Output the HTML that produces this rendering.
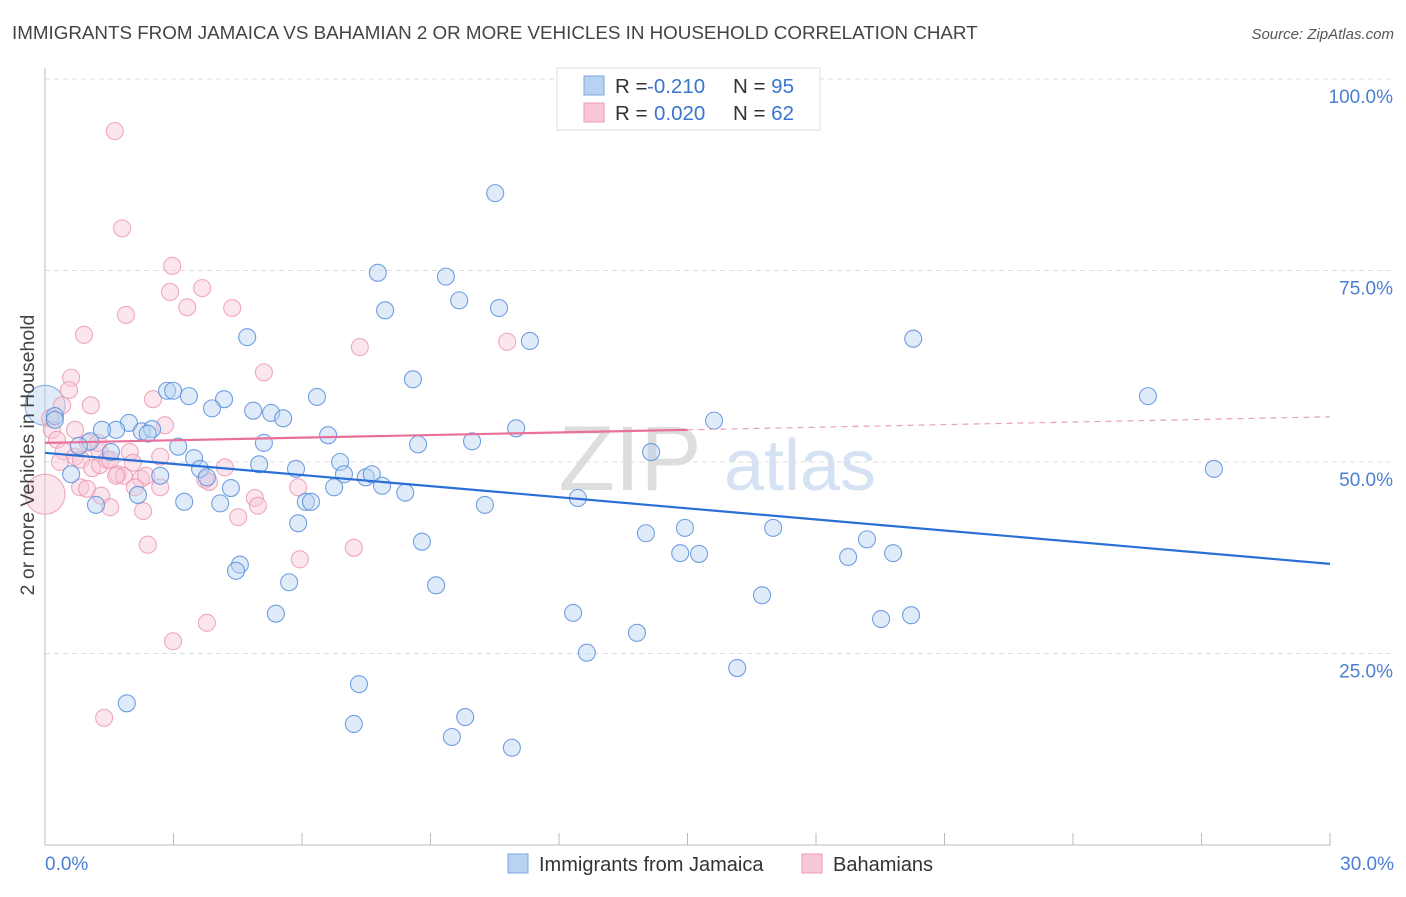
<!DOCTYPE html>
<html><head><meta charset="utf-8"><style>
body{margin:0;background:#fff;font-family:"Liberation Sans",sans-serif;}
svg text{font-family:"Liberation Sans",sans-serif;}
</style></head><body>
<svg id="chart" width="1406" height="892" viewBox="0 0 1406 892" xmlns="http://www.w3.org/2000/svg">
<text x="12" y="39" font-size="18.8" fill="#444">IMMIGRANTS FROM JAMAICA VS BAHAMIAN 2 OR MORE VEHICLES IN HOUSEHOLD CORRELATION CHART</text>
<text x="1394" y="39" font-size="15" fill="#555" font-style="italic" text-anchor="end">Source: ZipAtlas.com</text>
<g>
<text x="630" y="490" font-size="92" fill="#ddd" font-family="Liberation Serif,serif" text-anchor="middle">ZIP</text>
<text x="800" y="490" font-size="72" fill="#d4e2f3" text-anchor="middle">atlas</text>
</g>
<g id="grid"></g>
<g id="axes"></g>
<g id="trend"></g>
<g id="pts"></g>
<text transform="translate(34,455) rotate(-90)" font-size="19.5" fill="#444" text-anchor="middle">2 or more Vehicles in Household</text>
<g>
<rect x="557" y="68" width="263" height="62" fill="#fff" stroke="#ddd"/>
<rect x="584" y="76" width="20" height="19" fill="#b8d2f2" stroke="#7aa6e0"/>
<rect x="584" y="103" width="20" height="19" fill="#f9c8d6" stroke="#ec9ab2"/>
<text x="615" y="93" font-size="20.5" fill="#333">R = <tspan x="647" fill="#3a74cf">-0.210</tspan><tspan x="733">N = </tspan><tspan fill="#3a74cf">95</tspan></text>
<text x="615" y="120" font-size="20.5" fill="#333">R = <tspan x="654" fill="#3a74cf">0.020</tspan><tspan x="733">N = </tspan><tspan fill="#3a74cf">62</tspan></text>
</g>
<g>
<rect x="508" y="854" width="20" height="19" fill="#b8d2f2" stroke="#7aa6e0"/>
<text x="539" y="871" font-size="20" fill="#333">Immigrants from Jamaica</text>
<rect x="802" y="854" width="20" height="19" fill="#f9c8d6" stroke="#ec9ab2"/>
<text x="833" y="871" font-size="20" fill="#333">Bahamians</text>
</g>
</svg>
<script>
const blueX=[10.51,7.77,9.36,9.67,7.94,10.60,11.32,4.72,20.27,25.75,8.59,2.85,2.99,3.36,4.18,3.90,4.86,5.28,5.56,6.35,1.96,1.66,1.33,2.26,2.50,2.40,0.23,0.23,5.11,6.61,8.71,9.97,11.00,15.62,14.15,1.05,0.79,1.54,3.11,3.48,3.62,3.78,5.00,5.86,6.89,6.98,7.49,7.63,7.87,8.41,27.29,0.61,2.69,4.34,6.75,6.09,6.21,3.25,4.09,2.17,1.19,10.27,12.44,5.91,8.80,14.03,14.94,14.83,15.27,17.00,19.19,18.75,19.80,4.55,4.46,5.70,9.13,16.74,5.39,12.33,13.82,19.52,20.22,12.65,16.16,7.33,1.91,7.21,9.81,9.50,10.90];
const blueY=[85.1,74.7,74.2,71.1,69.8,70.1,65.8,66.3,66.1,58.6,60.8,59.3,59.3,58.6,58.2,57.0,56.7,56.4,55.7,58.5,55.1,54.2,54.2,54.0,54.3,53.7,56.0,55.5,52.5,53.5,52.3,52.7,54.4,55.4,51.3,52.7,52.1,51.3,52.0,50.5,49.1,48.0,49.7,49.1,50.0,48.4,48.0,48.4,46.9,46.0,49.1,48.4,48.2,46.6,46.7,44.8,44.8,44.8,44.6,45.7,44.4,44.4,45.3,42.0,39.6,40.7,41.4,38.1,38.0,41.4,39.9,37.6,38.1,36.6,35.8,34.3,33.9,32.6,30.2,30.3,27.7,29.5,30.0,25.1,23.1,21.0,18.5,15.8,16.7,14.1,12.7];
const pinkX=[1.63,1.80,2.97,2.92,3.67,3.32,4.37,1.89,0.91,7.35,10.79,5.11,0.61,0.56,1.07,0.40,2.52,0.12,0.16,0.28,1.00,0.44,0.70,1.28,1.98,2.69,0.84,1.10,1.28,1.45,1.70,1.84,1.66,2.24,2.36,4.20,3.74,2.69,3.83,2.10,0.82,0.98,1.31,5.91,4.90,4.97,1.52,2.29,4.51,2.40,7.21,5.95,3.78,2.99,1.38,0.35,0.70,1.24,1.52,2.05,2.80];
const pinkY=[93.2,80.5,75.6,72.2,72.7,70.2,70.1,69.2,66.6,65.0,65.7,61.7,61.0,59.4,57.4,57.4,58.2,55.7,54.2,52.9,52.5,51.4,50.7,51.3,51.3,50.7,50.3,49.2,49.6,50.3,48.4,48.2,48.2,47.8,48.2,49.3,47.7,46.7,47.4,46.7,46.7,46.5,45.6,46.7,45.3,44.3,44.1,43.6,42.8,39.2,38.8,37.3,29.0,26.6,16.6,50.0,54.2,52.5,50.3,49.9,54.8];
const bigBlue=[0.0,57.4];
const bigPink=[0.0,45.8];
const blueTrend=[51.2,36.7];
const pinkTrend=[52.5,55.9];
const pinkSolidEnd=15;
const yTicks=[25,50,75,100];
const xTickLabels=["0.0%","30.0%"];
const NS="http://www.w3.org/2000/svg";
const X0=45,X1=1330,Y0=845,Y100=79;
const sx=v=>X0+(v/30)*(X1-X0);
const sy=v=>Y0-(v/100)*(Y0-Y100);
function mk(t,a,p){const e=document.createElementNS(NS,t);for(const k in a)e.setAttribute(k,a[k]);p.appendChild(e);return e;}
const grid=document.getElementById('grid'),axes=document.getElementById('axes'),trend=document.getElementById('trend'),pts=document.getElementById('pts');
yTicks.forEach(v=>{
 const l=mk('line',{x1:X0,x2:1395,y1:sy(v),y2:sy(v),stroke:'#ddd','stroke-dasharray':'5,4'},grid);
 
 
 const t=mk('text',{x:1393,y:sy(v)+24,'font-size':19,fill:'#4a7fd4','text-anchor':'end'},axes);
 t.textContent=v.toFixed(1)+'%';
 
 
});
const al=mk('line',{x1:X0,x2:X0,y1:68,y2:Y0,stroke:'#bbb'},axes);


const bl=mk('line',{x1:X0,x2:X1,y1:Y0,y2:Y0,stroke:'#bbb'},axes);


for(let i=0;i<=10;i++){
 const tk=mk('line',{x1:sx(i*3),x2:sx(i*3),y1:Y0-12,y2:Y0,stroke:'#bbb'},axes);
 
 
}
[[0,'start',45],[30,'end',1394]].forEach((d,i)=>{
 const t=mk('text',{x:d[2],y:870,'font-size':19,fill:'#4a7fd4','text-anchor':d[1]},axes);
 t.textContent=xTickLabels[i];
 
 
});
function dot(x,y,r,fill,stroke,name){
 const c=mk('circle',{cx:sx(x),cy:sy(y),r:r,fill:fill,'fill-opacity':0.45,stroke:stroke,'stroke-opacity':0.85,'stroke-width':1.1},pts);
 
 
}
dot(bigBlue[0],bigBlue[1],20,'#b8d2f2','#7aa6e0','point-jamaica');
dot(bigPink[0],bigPink[1],20,'#f9c8d6','#ec9ab2','point-bahamians');
pinkX.forEach((x,i)=>dot(x,pinkY[i],8.5,'#f9c8d6','#ec9ab2','point-bahamians'));
blueX.forEach((x,i)=>dot(x,blueY[i],8.5,'#b8d2f2','#5a8fdc','point-jamaica'));
const bt=mk('line',{x1:sx(0),y1:sy(blueTrend[0]),x2:sx(30),y2:sy(blueTrend[1]),stroke:'#2a6fd6','stroke-width':2.2},trend);


const pm=pinkTrend[0]+(pinkTrend[1]-pinkTrend[0])*pinkSolidEnd/30;
const pt=mk('line',{x1:sx(0),y1:sy(pinkTrend[0]),x2:sx(pinkSolidEnd),y2:sy(pm),stroke:'#e8709a','stroke-width':2.2},trend);


const pd=mk('line',{x1:sx(pinkSolidEnd),y1:sy(pm),x2:sx(30),y2:sy(pinkTrend[1]),stroke:'#e8a0b8','stroke-width':1.2,'stroke-dasharray':'6,5'},trend);


document.getElementById('chart').appendChild(trend);
</script>
</body></html>
